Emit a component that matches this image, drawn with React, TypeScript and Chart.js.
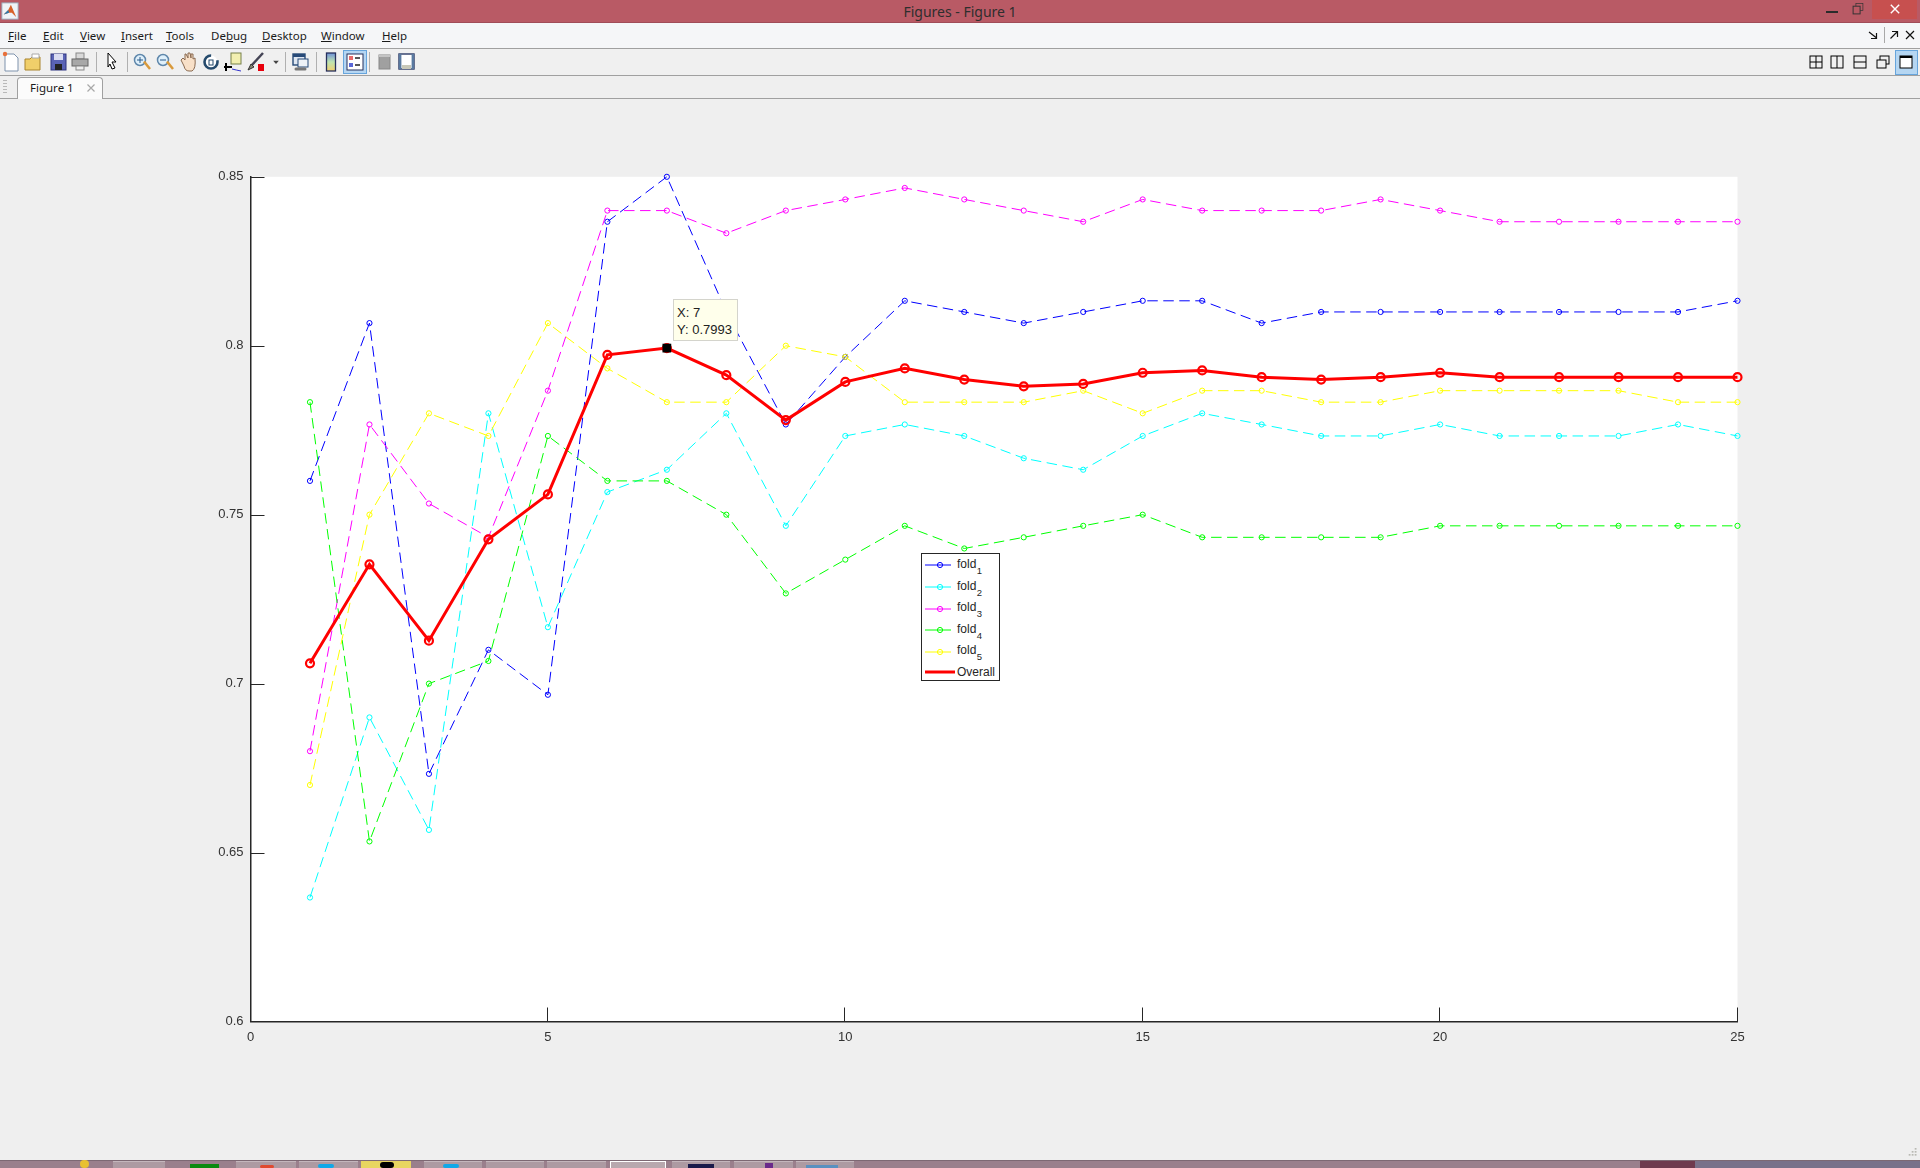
import React, { useEffect, useRef } from "react";
import { Chart, registerables } from "chart.js";

Chart.register(...registerables);

const epochs = [1, 2, 3, 4, 5, 6, 7, 8, 9, 10, 11, 12, 13, 14, 15, 16, 17, 18, 19, 20, 21, 22, 23, 24, 25];
const fold1 = [0.76, 0.8067, 0.6733, 0.71, 0.6967, 0.8367, 0.85, 0.81, 0.7767, 0.7967, 0.8133, 0.81, 0.8067, 0.81, 0.8133, 0.8133, 0.8067, 0.81, 0.81, 0.81, 0.81, 0.81, 0.81, 0.81, 0.8133];
const fold2 = [0.6367, 0.69, 0.6567, 0.78, 0.7167, 0.7567, 0.7633, 0.78, 0.7467, 0.7733, 0.7767, 0.7733, 0.7667, 0.7633, 0.7733, 0.78, 0.7767, 0.7733, 0.7733, 0.7767, 0.7733, 0.7733, 0.7733, 0.7767, 0.7733];
const fold3 = [0.68, 0.7767, 0.7533, 0.7433, 0.7867, 0.84, 0.84, 0.8333, 0.84, 0.8433, 0.8467, 0.8433, 0.84, 0.8367, 0.8433, 0.84, 0.84, 0.84, 0.8433, 0.84, 0.8367, 0.8367, 0.8367, 0.8367, 0.8367];
const fold4 = [0.7833, 0.6533, 0.7, 0.7067, 0.7733, 0.76, 0.76, 0.75, 0.7267, 0.7367, 0.7467, 0.74, 0.7433, 0.7467, 0.75, 0.7433, 0.7433, 0.7433, 0.7433, 0.7467, 0.7467, 0.7467, 0.7467, 0.7467, 0.7467];
const fold5 = [0.67, 0.75, 0.78, 0.7733, 0.8067, 0.7933, 0.7833, 0.7833, 0.8, 0.7967, 0.7833, 0.7833, 0.7833, 0.7867, 0.78, 0.7867, 0.7867, 0.7833, 0.7833, 0.7867, 0.7867, 0.7867, 0.7867, 0.7833, 0.7833];
const overall = [0.706, 0.7353, 0.7127, 0.7427, 0.756, 0.7973, 0.7993, 0.7913, 0.778, 0.7893, 0.7933, 0.79, 0.788, 0.7887, 0.792, 0.7927, 0.7907, 0.79, 0.7907, 0.792, 0.7907, 0.7907, 0.7907, 0.7907, 0.7907];
const foldSeries = [fold1, fold2, fold3, fold4, fold5];
const foldNames = ["fold1", "fold2", "fold3", "fold4", "fold5"];
const foldColors = ["#0000ff", "#00ffff", "#ff00ff", "#00ff00", "#ffff00"];
const xTicks = [0, 5, 10, 15, 20, 25];
const yTicks = ["0.6", "0.65", "0.7", "0.75", "0.8", "0.85"];
const tipX = 7;
const tipY = 0.7993;
const menuItems = [
  { pre: "", u: "F", post: "ile", x: 8 },
  { pre: "", u: "E", post: "dit", x: 43 },
  { pre: "", u: "V", post: "iew", x: 80 },
  { pre: "", u: "I", post: "nsert", x: 121 },
  { pre: "", u: "T", post: "ools", x: 166 },
  { pre: "De", u: "b", post: "ug", x: 211 },
  { pre: "", u: "D", post: "esktop", x: 262 },
  { pre: "", u: "W", post: "indow", x: 321 },
  { pre: "", u: "H", post: "elp", x: 382 },
];

const SANS = '"Liberation Sans", Arial, sans-serif';
const UI = '"Noto Sans", "Open Sans", sans-serif';

const abs = (left: number, top: number, width: number, height: number, background?: string): React.CSSProperties => ({
  position: "absolute", left, top, width, height, background,
});

function Ico({ cx, cy, size = 20, children }: { cx: number; cy: number; size?: number; children: React.ReactNode }) {
  return (
    <svg width={size} height={size} viewBox="-10 -10 20 20"
      style={{ position: "absolute", left: cx - size / 2, top: cy - size / 2, overflow: "visible" }}>
      {children}
    </svg>
  );
}

function Toolbar() {
  const y = 62;
  const seps = [95.5, 126.5, 284.5, 315.5, 369];
  return (
    <>
      {seps.map((s) => <div key={s} style={abs(s, 52, 1, 20, "#b0b0b0")} />)}
      <Ico cx={11} cy={y}><path d="M-6-8H3L7-4V9H-6Z" fill="#fff" stroke="#7f93ad" /><circle cx="-6" cy="-8" r="2.2" fill="#e8703a" /></Ico>
      <Ico cx={33} cy={y}><path d="M-8-3H-3L-1-5H7V8H-8Z" fill="#f0cf6a" stroke="#a9842c" /><path d="M-1-8H6V-4H-1Z" fill="#fff" stroke="#aaa" /></Ico>
      <Ico cx={58} cy={y}><rect x="-7" y="-8" width="15" height="16" fill="#5a63b5" stroke="#2f3580" /><rect x="-4" y="-8" width="9" height="6" fill="#d9dcf2" /><rect x="-3" y="2" width="7" height="6" fill="#222" /></Ico>
      <Ico cx={80} cy={y}><rect x="-4" y="-9" width="8" height="6" fill="#d8d8d8" stroke="#888" /><rect x="-8" y="-3" width="16" height="7" fill="#a8a8a8" stroke="#666" /><rect x="-4" y="4" width="8" height="4" fill="#eee" stroke="#888" /></Ico>
      <Ico cx={112} cy={y}><path d="M-4-9L4 0H0L3 6L0 7L-2 2L-4 5Z" fill="#fff" stroke="#000" /></Ico>
      <Ico cx={142} cy={y}><circle cx="-2" cy="-2" r="5.5" fill="#dff0fb" stroke="#5f87ab" strokeWidth="1.5" /><path d="M2-.5L8 7" stroke="#d99a3c" strokeWidth="2.5" /><path d="M-5-2H1M-2-5V1" stroke="#2a5a8a" /></Ico>
      <Ico cx={165} cy={y}><circle cx="-2" cy="-2" r="5.5" fill="#dff0fb" stroke="#5f87ab" strokeWidth="1.5" /><path d="M2-.5L8 7" stroke="#d99a3c" strokeWidth="2.5" /><path d="M-5-2H1" stroke="#2a5a8a" /></Ico>
      <Ico cx={188} cy={y}><path d="M-7-2L-4 4Q-3 9 1 9H4Q8 7 7-4L5-3V-8L3-8V-4L2-9H0V-4L-2-8H-3V-2L-5-4Z" fill="#f8e0c8" stroke="#8a6a50" /></Ico>
      <Ico cx={211} cy={y}><circle cx="0" cy="0" r="6.5" fill="#fff" stroke="#254a6c" strokeWidth="2.6" strokeDasharray="30 8" /><rect x="-2" y="-2" width="4" height="5" fill="#fff" stroke="#254a6c" /></Ico>
      <Ico cx={233} cy={y}><rect x="-2" y="-9" width="10" height="11" fill="#f2efb0" stroke="#77804a" /><path d="M-7 1V9M-9 5H-1" stroke="#000" strokeWidth="2" /><path d="M-1 7Q3 8 8 9" stroke="#33c" fill="none" /></Ico>
      <Ico cx={257} cy={y}><path d="M-6 4L6-9" stroke="#445" strokeWidth="2.5" /><path d="M-9 8L-6 2L-3 5Z" fill="#887" stroke="#333" /><rect x="1" y="2" width="6" height="7" fill="#e8000c" /></Ico>
      <Ico cx={275.5} cy={y} size={8}><path d="M-7-3H7L0 5Z" fill="#444" /></Ico>
      <Ico cx={300} cy={y}><rect x="-7" y="-8" width="12" height="11" fill="#dfe7f2" stroke="#274a78" strokeWidth="1.4" /><rect x="-7" y="-8" width="12" height="3" fill="#274a78" /><rect x="-2" y="-3" width="10" height="8" fill="#eef2f7" stroke="#274a78" /><path d="M-4 7H5" stroke="#777" strokeWidth="3" strokeLinecap="round" /></Ico>
      <Ico cx={331} cy={y}><defs><linearGradient id="cb" x1="0" y1="0" x2="0" y2="1"><stop offset="0" stopColor="#6d90d8" /><stop offset=".5" stopColor="#bfe4b0" /><stop offset="1" stopColor="#f0d070" /></linearGradient></defs><rect x="-4.5" y="-9" width="9" height="18" fill="url(#cb)" stroke="#27305c" strokeWidth="1.3" /></Ico>
      <div style={{ ...abs(343, 50, 22, 22, "#b5d6f2"), border: "1px solid #67a5dc", boxSizing: "content-box" }} />
      <Ico cx={354.5} cy={y}><rect x="-8" y="-8" width="16" height="16" fill="#fff" stroke="#27305c" /><rect x="-6" y="-6" width="4" height="4" fill="#e86a6a" /><rect x="-6" y="1" width="4" height="4" fill="#5a68d8" /><path d="M0-4H5M0 3H5" stroke="#222" strokeWidth="1.4" /></Ico>
      <Ico cx={385} cy={y}><rect x="-6" y="-7" width="11" height="14" fill="#a0a0a0" stroke="#888" /><rect x="-6" y="-7" width="11" height="2" fill="#c4c4c4" /></Ico>
      <Ico cx={407} cy={y}><rect x="-8" y="-8" width="15" height="15" fill="#fff" stroke="#2b3a66" strokeWidth="1.4" /><rect x="-8" y="-8" width="2.4" height="15" fill="#5a7aa0" /><rect x="4.6" y="-8" width="2.4" height="15" fill="#5a7aa0" /><rect x="-5" y="3" width="9" height="4" fill="#c8c8b8" /></Ico>
      {/* docking layouts */}
      <Ico cx={1816} cy={y}><rect x="-6" y="-6" width="12" height="12" fill="none" stroke="#000" /><path d="M0-6V6M-6 0H6" stroke="#000" /></Ico>
      <Ico cx={1837} cy={y}><rect x="-6" y="-6" width="12" height="12" fill="none" stroke="#000" /><path d="M0-6V6" stroke="#000" /></Ico>
      <Ico cx={1860} cy={y}><rect x="-6" y="-6" width="12" height="12" fill="none" stroke="#000" /><path d="M-6 0H6" stroke="#000" /></Ico>
      <Ico cx={1883} cy={y}><rect x="-3" y="-6" width="9" height="8" fill="none" stroke="#000" /><rect x="-6" y="-2" width="9" height="8" fill="#f0f0f0" stroke="#000" /></Ico>
      <div style={{ ...abs(1895, 50, 21, 23, "#b5d6f2"), border: "1px solid #67a5dc" }} />
      <Ico cx={1906} cy={y}><rect x="-6" y="-6" width="12" height="12" fill="#fff" stroke="#000" /><rect x="-6" y="-6" width="12" height="2" fill="#000" /></Ico>
    </>
  );
}

function Taskbar() {
  const buttons = [[113, 52], [236, 60], [299, 59], [424, 58], [486, 58], [547, 59], [672, 58], [734, 59], [796, 58]];
  return (
    <>
      <div style={abs(0, 1160, 1920, 8, "#9a7f8c")} />
      <div style={abs(0, 1160, 1920, 1, "#7d6873")} />
      <div style={abs(1640, 1161, 55, 7, "#6f3a4e")} />
      <div style={abs(1695, 1161, 225, 7, "#79718a")} />
      {buttons.map(([x, w]) => <div key={x} style={{ ...abs(x, 1161, w, 7, "#ad9aa2"), borderTop: "1px solid #c4b6bc" }} />)}
      <div style={{ ...abs(361, 1161, 50, 7, "#e8d560") }} />
      <div style={{ ...abs(610, 1161, 54, 7, "#b8a8ae"), border: "1px solid #fff" }} />
      <div style={abs(190, 1164, 29, 4, "#0a8a10")} />
      <div style={{ ...abs(80, 1160, 9, 8, "#e8c030"), borderRadius: 4 }} />
      <div style={{ ...abs(260, 1165, 14, 3, "#e04a30"), borderRadius: 7 }} />
      <div style={{ ...abs(318, 1164, 16, 4, "#10a8e8"), borderRadius: 7 }} />
      <div style={{ ...abs(380, 1162, 14, 6, "#000"), borderRadius: 7 }} />
      <div style={{ ...abs(443, 1164, 16, 4, "#10a8e8"), borderRadius: 7 }} />
      <div style={abs(688, 1164, 26, 4, "#1a1a4a")} />
      <div style={abs(765, 1163, 8, 5, "#6a2a8a")} />
      <div style={abs(806, 1165, 32, 3, "#5a90c0")} />
      <Ico cx={1912} cy={1153} size={12}>
        <path d="M6-8V-6M6-3V-1M1-3V-1M6 2V4M1 2V4M-4 2V4" stroke="#a8a8a0" strokeWidth="3" />
      </Ico>
    </>
  );
}

function LegendSample({ color, thick, y }: { color: string; thick?: boolean; y: number }) {
  return (
    <svg width={40} height={12} style={{ position: "absolute", left: 3, top: y - 6 }}>
      {thick
        ? <line x1={0} x2={30} y1={6} y2={6} stroke={color} strokeWidth={3} />
        : <>
            <line x1={0} x2={26} y1={6} y2={6} stroke={color} strokeWidth={1} />
            <circle cx={15} cy={6} r={2.6} fill="none" stroke={color} strokeWidth={1} />
          </>}
    </svg>
  );
}

function Legend() {
  const rows = [11.2, 33.2, 54.5, 76.2, 97.9];
  return (
    <div style={{ ...abs(921, 553, 79, 128, "#fff"), border: "1px solid #262626", boxSizing: "border-box", fontFamily: SANS, fontSize: 12, color: "#262626" }}>
      {foldNames.map((n, i) => (
        <React.Fragment key={n}>
          <LegendSample color={foldColors[i]} y={rows[i]} />
          <div style={{ position: "absolute", left: 35, top: rows[i] - 8.5, lineHeight: "14px", whiteSpace: "nowrap" }}>
            {n.slice(0, 4)}
            <span style={{ position: "relative", top: 6, fontSize: 9.5, marginLeft: 0.5 }}>{n.slice(4)}</span>
          </div>
        </React.Fragment>
      ))}
      <LegendSample color="#ff0000" thick y={117.8} />
      <div style={{ position: "absolute", left: 35, top: 110.5, lineHeight: "14px" }}>Overall</div>
    </div>
  );
}

function PlotChart() {
  const ref = useRef<HTMLCanvasElement | null>(null);
  useEffect(() => {
    if (!ref.current) return;
    const axisBits = {
      id: "axisBits",
      beforeDatasetsDraw(c: any) {
        const { ctx, chartArea: a, scales } = c;
        ctx.save();
        ctx.strokeStyle = "#262626";
        ctx.lineWidth = 1;
        ctx.beginPath();
        xTicks.slice(1).forEach((t) => {
          const px = Math.round(scales.x.getPixelForValue(t)) - 0.5;
          ctx.moveTo(px, a.bottom);
          ctx.lineTo(px, a.bottom - 14);
        });
        yTicks.slice(1).forEach((t) => {
          const py = Math.round(scales.y.getPixelForValue(Number(t))) + 0.5;
          ctx.moveTo(a.left, py);
          ctx.lineTo(a.left + 14, py);
        });
        ctx.stroke();
        ctx.restore();
      },
      beforeDraw(c: any) {
        const { ctx, chartArea: a } = c;
        ctx.save();
        ctx.fillStyle = "#ffffff";
        ctx.fillRect(a.left, a.top, a.right - a.left, a.bottom - a.top);
        ctx.restore();
      },
    };
    const foldSets = foldSeries.map((s, i) => ({
      label: foldNames[i],
      data: epochs.map((x, k) => ({ x, y: s[k] })),
      borderColor: foldColors[i],
      backgroundColor: "transparent",
      borderWidth: 1,
      borderDash: [10.5, 5.5],
      pointStyle: "circle",
      pointRadius: 2.6,
      pointBorderWidth: 1,
      pointBorderColor: foldColors[i],
      pointBackgroundColor: "transparent",
      tension: 0,
      order: 10 - i,
      clip: false as const,
    }));
    const chart = new Chart(ref.current, {
      type: "line",
      data: {
        datasets: [
          ...foldSets,
          {
            label: "Overall",
            data: epochs.map((x, k) => ({ x, y: overall[k] })),
            borderColor: "#ff0000",
            backgroundColor: "transparent",
            borderWidth: 3,
            pointStyle: "circle",
            pointRadius: 4,
            pointBorderWidth: 2.2,
            pointBorderColor: "#ff0000",
            pointBackgroundColor: "transparent",
            tension: 0,
            order: 1,
            clip: false as const,
          },
          {
            label: "Data tip",
            data: [{ x: tipX, y: tipY }],
            showLine: false,
            pointStyle: "rect",
            pointRadius: 6.2,
            pointBorderWidth: 0,
            pointBackgroundColor: "#000000",
            order: 0,
            clip: false as const,
          },
        ],
      } as any,
      options: {
        animation: false,
        responsive: false,
        devicePixelRatio: 1,
        events: [],
        layout: { padding: { top: 0, right: 52.5, left: 0, bottom: 0 } },
        plugins: { legend: { display: false }, tooltip: { enabled: false } },
        scales: {
          x: {
            type: "linear",
            min: 0,
            max: 25,
            afterFit: (s: any) => { s.height = 48.5; },
            afterBuildTicks: (s: any) => { s.ticks = xTicks.map((value) => ({ value })); },
            grid: { display: true, drawOnChartArea: false, drawTicks: false },
            border: { display: true, color: "#262626", width: 1.5 },
            ticks: { color: "#333333", font: { family: "Liberation Sans", size: 13 }, padding: 8, maxRotation: 0, callback: (v: any) => String(v) },
          },
          y: {
            type: "linear",
            min: 0.6,
            max: 0.85,
            afterFit: (s: any) => { s.width = 60.5; },
            afterBuildTicks: (s: any) => { s.ticks = yTicks.map((t) => ({ value: Number(t) })); },
            grid: { display: true, drawOnChartArea: false, drawTicks: false },
            border: { display: true, color: "#262626", width: 1.5 },
            ticks: { color: "#333333", font: { family: "Liberation Sans", size: 13 }, padding: 7, callback: (v: any) => String(Number(Number(v).toFixed(2))) },
          },
        },
      },
      plugins: [axisBits],
    } as any);
    return () => chart.destroy();
  }, []);
  return <canvas ref={ref} width={1600} height={908} style={{ position: "absolute", left: 190, top: 162, width: 1600, height: 908 }} />;
}

export default function App() {
  return (
    <div style={{ position: "fixed", left: 0, top: 0, width: 1920, height: 1168, overflow: "hidden", background: "#efefef", fontFamily: UI }}>
      {/* title bar */}
      <div style={abs(0, 0, 1920, 23, "#b95a65")} />
      <div style={abs(0, 22, 1920, 1, "#a04c58")} />
      <Ico cx={10} cy={11} size={18}>
        <rect x="-9" y="-9" width="18" height="18" fill="#f0f4f8" stroke="#9ab" />
        <path d="M-7 4L-2-1L1-7L7 7L2 2L-1 2Z" fill="#d8622a" />
        <path d="M-7 4L-2-1L-1 2Z" fill="#2a7ab0" />
      </Ico>
      <div style={{ position: "absolute", left: 0, width: 1920, top: 3, textAlign: "center", fontSize: 14, lineHeight: "17px", color: "#2e2e2e" }}>Figures - Figure 1</div>
      <div style={abs(1826, 11, 12, 2, "#2b2b2b")} />
      <Ico cx={1858} cy={9} size={14}><rect x="-3" y="-8" width="10" height="10" fill="none" stroke="#333" /><rect x="-7" y="-4" width="10" height="11" fill="#b95a65" stroke="#333" strokeWidth="1.4" /></Ico>
      <div style={abs(1872, 0, 45, 19, "#c7504f")} />
      <Ico cx={1895} cy={9} size={14}><path d="M-6-6L6 6M6-6L-6 6" stroke="#fff" strokeWidth="2" /></Ico>

      {/* menu */}
      <div style={abs(0, 23, 1920, 25, "#f5f6f8")} />
      <div style={abs(0, 48, 1920, 1, "#a0a0a0")} />
      {menuItems.map((m) => (
        <div key={m.x} style={{ position: "absolute", left: m.x, top: 27, fontSize: 11.5, lineHeight: "17px", color: "#1a1a1a", whiteSpace: "nowrap" }}>
          {m.pre}<u>{m.u}</u>{m.post}
        </div>
      ))}
      <Ico cx={1873} cy={35} size={10}><path d="M-8-6L6 5M7-4V7H-4" stroke="#111" strokeWidth="2.4" fill="none" /></Ico>
      <div style={abs(1884, 27, 1, 16, "#a8a8a8")} />
      <Ico cx={1894} cy={35} size={10}><path d="M-7 7L6-6M-4-7H7V4" stroke="#111" strokeWidth="2.4" fill="none" /></Ico>
      <Ico cx={1910} cy={35} size={10}><path d="M-8-8L8 8M8-8L-8 8" stroke="#111" strokeWidth="2.4" /></Ico>

      {/* toolbar */}
      <div style={abs(0, 49, 1920, 26, "#f0f0f0")} />
      <div style={abs(0, 75, 1920, 1, "#a0a0a0")} />
      <Toolbar />

      {/* tab strip */}
      <div style={abs(0, 98, 1920, 1, "#a0a0a0")} />
      {[80, 83, 86, 89, 92].map((y) => <div key={y} style={abs(3, y, 4, 1, "#b8b8b8")} />)}
      <div style={{ ...abs(17, 77, 86, 22, "#fbfbfb"), border: "1px solid #a0a0a0", borderBottom: "none", borderRadius: "4px 4px 0 0", boxSizing: "border-box" }} />
      <div style={{ position: "absolute", left: 30, top: 79, fontSize: 11.5, lineHeight: "17px", color: "#1a1a1a" }}>Figure 1</div>
      <Ico cx={91} cy={88} size={10}><path d="M-7-7L7 7M7-7L-7 7" stroke="#a8a8a8" strokeWidth="2.4" /></Ico>

      <PlotChart />
      <Legend />

      {/* data tip */}
      <div style={{ ...abs(673, 299, 64.5, 42, "#ffffeb"), border: "1px solid #d4d4cc", boxSizing: "border-box", fontFamily: SANS, fontSize: 13, lineHeight: "16.5px", color: "#222", padding: "5px 0 0 3px", whiteSpace: "nowrap" }}>
        <div>X: {tipX}</div>
        <div>Y: {tipY}</div>
      </div>

      <Taskbar />
    </div>
  );
}
